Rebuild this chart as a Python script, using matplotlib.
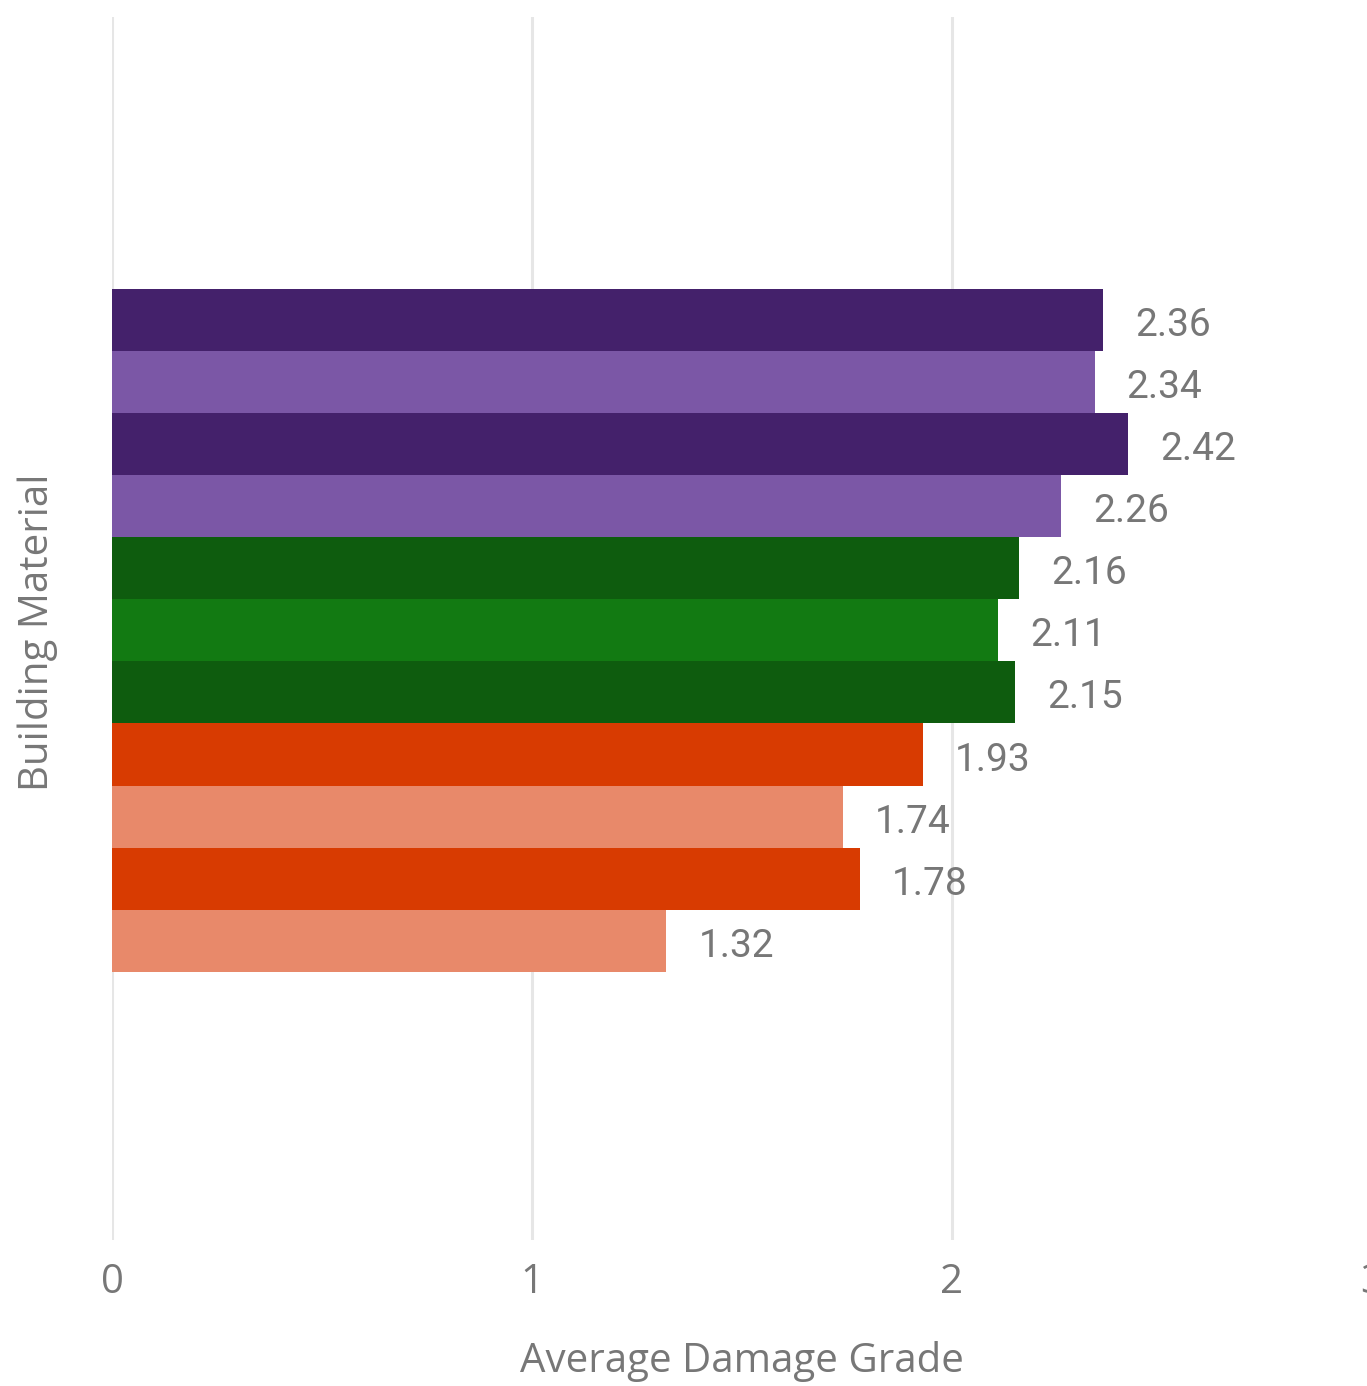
import numpy as np
import matplotlib.pyplot as plt

values = [2.36, 2.34, 2.42, 2.26, 2.16, 2.11, 2.15, 1.93, 1.74, 1.78, 1.32]
labels = ['2.36', '2.34', '2.42', '2.26', '2.16', '2.11', '2.15', '1.93', '1.74', '1.78', '1.32']
colors = ['#44216b', '#7b57a6', '#44216b', '#7b57a6',
          '#0e5c0e', '#127a12', '#0e5c0e',
          '#d83b01', '#e8896a', '#d83b01', '#e8896a']
xticks = [0, 1, 2, 3]

grey = '#777777'

fig = plt.figure(figsize=(13.67, 13.86), dpi=100)
ax = fig.add_axes([112/1367, 146/1386, 1260/1367, 1223/1386])

y = np.arange(len(values))
ax.barh(y, values, height=1.0, color=colors, zorder=2)

for yi, v, lab in zip(y, values, labels):
    ax.annotate(lab, (v, yi), xytext=(23, -4), textcoords='offset points',
                va='center', ha='left', fontsize=28, color=grey,
                family='Roboto')

ax.set_xlim(0, 3)
ax.set_ylim(14.82, -4.88)
ax.set_xticks(xticks)
ax.set_xticklabels([str(t) for t in xticks], fontsize=29, color=grey, family='Open Sans')
ax.set_yticks([])
ax.tick_params(axis='x', length=0, pad=16)
ax.grid(axis='x', color='#e6e6e6', linewidth=2.2, zorder=0)
for s in ax.spines.values():
    s.set_visible(False)

ax.set_xlabel('Average Damage Grade', fontsize=29, color=grey, family='Open Sans', va='center')
ax.xaxis.set_label_coords(0.5, -0.099)
ax.set_ylabel('Building Material', fontsize=29, color=grey, family='Open Sans', va='center')
ax.yaxis.set_label_coords(-0.0595, 0.497)

fig.savefig('out.png', dpi=100)
